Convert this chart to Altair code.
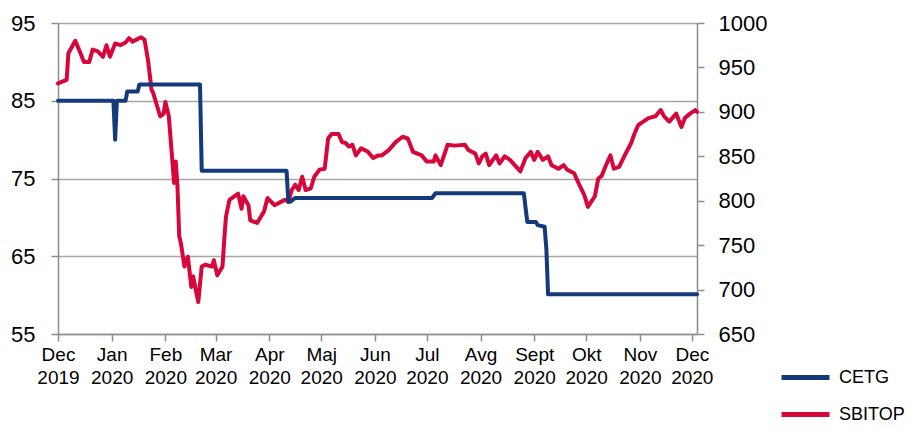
import altair as alt
import pandas as pd

# ---- data ----
cetg_dates = ["2019-12-01", "2020-01-02", "2020-01-03", "2020-01-04", "2020-01-09", "2020-01-10",
              "2020-01-16", "2020-01-17", "2020-02-21", "2020-02-22", "2020-04-11", "2020-04-12",
              "2020-04-13", "2020-04-16", "2020-07-04", "2020-07-06", "2020-08-26", "2020-08-28",
              "2020-09-02", "2020-09-03", "2020-09-07", "2020-09-08", "2020-09-09", "2020-12-04"]
cetg_values = [85, 85, 80, 85, 85, 86.2,
               86.2, 87.1, 87.1, 76, 76, 72,
               72, 72.5, 72.5, 73.1, 73.1, 69.4,
               69.4, 69.0, 68.8, 66, 60.1, 60.1]

sbitop_dates = ["2019-12-01", "2019-12-06", "2019-12-07", "2019-12-11", "2019-12-14", "2019-12-16",
                "2019-12-19", "2019-12-21", "2019-12-24", "2019-12-27", "2019-12-29", "2019-12-31",
                "2020-01-03", "2020-01-06", "2020-01-09", "2020-01-11", "2020-01-13", "2020-01-15",
                "2020-01-18", "2020-01-20", "2020-01-22", "2020-01-24", "2020-01-25", "2020-01-27",
                "2020-01-29", "2020-01-31", "2020-02-01", "2020-02-03", "2020-02-05", "2020-02-06",
                "2020-02-07", "2020-02-08", "2020-02-09", "2020-02-10", "2020-02-12", "2020-02-14",
                "2020-02-16", "2020-02-17", "2020-02-20", "2020-02-22", "2020-02-24", "2020-02-28",
                "2020-02-29", "2020-03-02", "2020-03-05", "2020-03-06", "2020-03-07", "2020-03-09",
                "2020-03-14", "2020-03-16", "2020-03-17", "2020-03-20", "2020-03-21", "2020-03-25",
                "2020-03-29", "2020-03-31", "2020-04-04", "2020-04-08", "2020-04-10", "2020-04-12",
                "2020-04-14", "2020-04-16", "2020-04-18", "2020-04-20", "2020-04-22", "2020-04-25",
                "2020-04-27", "2020-04-30", "2020-05-03", "2020-05-05", "2020-05-07", "2020-05-11",
                "2020-05-13", "2020-05-15", "2020-05-17", "2020-05-19", "2020-05-21", "2020-05-24",
                "2020-05-28", "2020-05-31", "2020-06-03", "2020-06-05", "2020-06-09", "2020-06-13",
                "2020-06-17", "2020-06-20", "2020-06-23", "2020-06-28", "2020-07-01", "2020-07-05",
                "2020-07-06", "2020-07-09", "2020-07-13", "2020-07-17", "2020-07-23", "2020-07-25",
                "2020-07-29", "2020-07-31", "2020-08-02", "2020-08-04", "2020-08-06", "2020-08-10",
                "2020-08-12", "2020-08-15", "2020-08-18", "2020-08-24", "2020-08-27", "2020-08-30",
                "2020-09-01", "2020-09-03", "2020-09-06", "2020-09-09", "2020-09-11", "2020-09-15",
                "2020-09-18", "2020-09-20", "2020-09-24", "2020-09-27", "2020-09-30", "2020-10-02",
                "2020-10-06", "2020-10-08", "2020-10-10", "2020-10-12", "2020-10-15", "2020-10-17",
                "2020-10-20", "2020-10-23", "2020-10-27", "2020-10-29", "2020-10-31", "2020-11-03",
                "2020-11-06", "2020-11-10", "2020-11-13", "2020-11-15", "2020-11-18", "2020-11-22",
                "2020-11-25", "2020-11-27", "2020-11-30", "2020-12-03", "2020-12-04"]
sbitop_values = [932, 936, 966, 980, 966, 956,
                 956, 970, 968, 962, 975, 962,
                 977, 975, 978, 983, 979, 981,
                 984, 981, 958, 925, 921, 908,
                 895, 898, 911, 895, 846, 820,
                 844, 816, 760, 752, 726, 737,
                 703, 715, 686, 726, 728, 726,
                 733, 716, 726, 756, 782, 801,
                 808, 791, 805, 795, 778, 775,
                 788, 803, 795, 799, 801, 799,
                 812, 818, 812, 827, 812, 814,
                 827, 835, 836, 870, 875, 875,
                 866, 865, 861, 863, 851, 859,
                 855, 848, 851, 851, 857, 866,
                 872, 870, 855, 851, 844, 844,
                 851, 840, 863, 862, 863, 857,
                 853, 842, 850, 853, 840, 851,
                 842, 850, 846, 833, 848, 855,
                 846, 855, 846, 850, 840, 836,
                 840, 835, 831, 818, 806, 793,
                 805, 825, 828, 838, 851, 836,
                 838, 850, 865, 876, 885, 889,
                 893, 895, 902, 895, 889, 898,
                 883, 893, 898, 902, 900]

series_names = ["CETG", "SBITOP"]
series_colors = ["#143A7B", "#D7063B"]
month_labels = ["Jan", "Feb", "Mar", "Apr", "Maj", "Jun", "Jul", "Avg", "Sept", "Okt", "Nov", "Dec"]
tick_months = [(2019, 12)] + [(2020, m) for m in range(1, 13)]
left_ticks = [55, 65, 75, 85, 95]
right_ticks = [650, 700, 750, 800, 850, 900, 950, 1000]

FONT = "Liberation Sans"

cetg = pd.DataFrame({"date": cetg_dates, "value": cetg_values, "series": series_names[0]})
sbitop = pd.DataFrame({"date": sbitop_dates, "value": sbitop_values, "series": series_names[1]})

label_expr = ("[" + repr(month_labels) + "[utcmonth(datum.value)], utcFormat(datum.value, '%Y')]")

x_enc = alt.X(
    "date:T",
    title=None,
    scale=alt.Scale(type="utc",
                    domain=[alt.DateTime(year=2019, month=12, date=1, utc=True),
                            alt.DateTime(year=2020, month=12, date=4, utc=True)]),
    axis=alt.Axis(
        values=[alt.DateTime(year=y, month=m, date=1, utc=True) for y, m in tick_months],
        labelExpr=label_expr,
        labelFlush=False,
        labelOverlap=False,
        labelAlign="center",
        labelBaseline="top",
        labelLineHeight=23,
        labelFontSize=19,
        labelPadding=4,
        tickSize=7,
        grid=False,
    ),
)

color_enc = alt.Color(
    "series:N",
    scale=alt.Scale(domain=series_names, range=series_colors),
    legend=alt.Legend(
        title=None,
        orient="none",
        legendX=721,
        legendY=328,
        symbolType="stroke",
        symbolSize=2304,
        symbolStrokeWidth=5,
        labelFontSize=18,
        labelOffset=7,
        rowPadding=-6,
        padding=0,
    ),
)

left = alt.Chart(cetg).mark_line(strokeWidth=4, strokeCap="round", strokeJoin="round").encode(
    x=x_enc,
    y=alt.Y("value:Q", title=None,
            scale=alt.Scale(domain=[55, 95], nice=False, zero=False),
            axis=alt.Axis(values=left_ticks, orient="left", grid=True, tickSize=7,
                          labelPadding=16, labelFontSize=22, format="d")),
    color=color_enc,
)

right = alt.Chart(sbitop).mark_line(strokeWidth=4, strokeCap="round", strokeJoin="round").encode(
    x=x_enc,
    y=alt.Y("value:Q", title=None,
            scale=alt.Scale(domain=[650, 1000], nice=False, zero=False),
            axis=alt.Axis(values=right_ticks, orient="right", grid=False, tickSize=7,
                          labelPadding=14, labelFontSize=22, format="d")),
    color=color_enc,
)

chart = alt.layer(right, left).resolve_scale(y="independent").properties(
    width=639, height=311,
    autosize=alt.AutoSizeParams(type="none"),
    padding={"left": 50, "top": 15, "right": 211, "bottom": 90},
).configure_view(stroke=None).configure_axis(
    labelFont=FONT, labelColor="#000000",
    domainColor="#8C8C8C", domainWidth=1.5,
    tickColor="#8C8C8C", tickWidth=1.5,
    gridColor="#A6A6A6", gridWidth=1.5,
).configure_legend(labelFont=FONT, labelColor="#000000")

chart.save("out.html", embed_options={"renderer": "svg", "actions": False})
